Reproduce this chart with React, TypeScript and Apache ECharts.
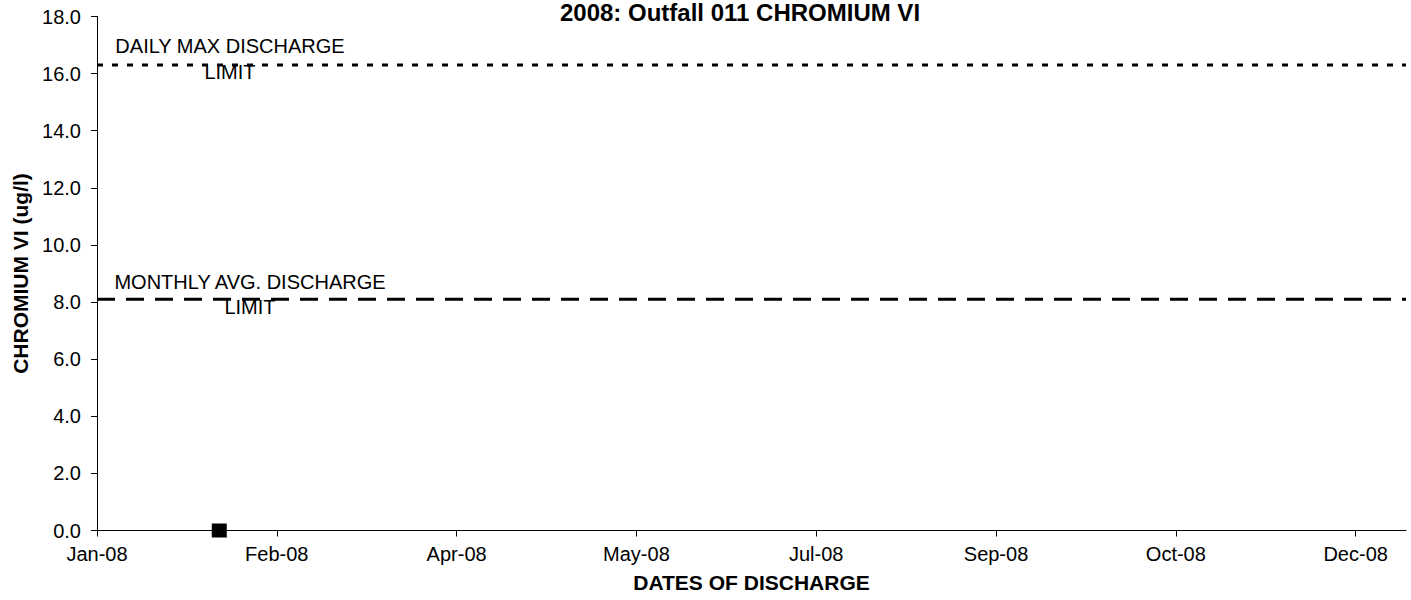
import React, { useEffect, useRef } from "react";
import * as echarts from "echarts";

// ---- data ----
const chartTitle = "2008: Outfall 011 CHROMIUM VI";
const xAxisName = "DATES OF DISCHARGE";
const yAxisName = "CHROMIUM VI (ug/l)";
const xStartDate = "2008-01-01";
const xEndDate = "2008-12-30";
const xTickDates = [
  "2008-01-01",
  "2008-02-20",
  "2008-04-10",
  "2008-05-30",
  "2008-07-19",
  "2008-09-07",
  "2008-10-27",
  "2008-12-16",
];
const xTickLabels = ["Jan-08", "Feb-08", "Apr-08", "May-08", "Jul-08", "Sep-08", "Oct-08", "Dec-08"];
const sampleDates = ["2008-02-04"];
const sampleValues = [0];
const dailyMaxLimit = 16.3;
const monthlyAvgLimit = 8.1;
const dailyMaxLabel = "DAILY MAX DISCHARGE\nLIMIT";
const monthlyAvgLabel = "MONTHLY AVG. DISCHARGE\nLIMIT";
const yMin = 0;
const yMax = 18;
const yStep = 2;

const FONT = "'Liberation Sans', Arial, sans-serif";

function dayOf(s: string): number {
  const [y, m, d] = s.split("-").map(Number);
  const t0 = Date.UTC(2008, 0, 1);
  return Math.round((Date.UTC(y, m - 1, d) - t0) / 86400000);
}

export default function App() {
  const ref = useRef<HTMLDivElement>(null);
  useEffect(() => {
    if (!ref.current) return;
    const chart = echarts.init(ref.current, undefined, { renderer: "svg" });
    const xMin = dayOf(xStartDate);
    const xMax = dayOf(xEndDate);
    const tickDays = xTickDates.map(dayOf);
    const labelFor = (v: number) => {
      const i = tickDays.indexOf(Math.round(v));
      return i >= 0 ? xTickLabels[i] : "";
    };
    const option: any = {
      animation: false,
      backgroundColor: "#ffffff",
      textStyle: { fontFamily: FONT, color: "#000" },
      grid: { left: 97, right: 5, top: 16.5, bottom: 69.5, containLabel: false },
      xAxis: {
        type: "value",
        min: xMin,
        max: xMax,
        interval: 50,
        name: xAxisName,
        nameLocation: "middle",
        nameGap: 41,
        nameTextStyle: { fontFamily: FONT, fontSize: 21, fontWeight: "bold", color: "#000" },
        axisLine: { show: true, onZero: false, lineStyle: { color: "#000", width: 1 } },
        axisTick: { show: true, inside: false, length: 6, customValues: tickDays, lineStyle: { color: "#000" } },
        axisLabel: {
          fontFamily: FONT,
          fontSize: 20,
          color: "#000",
          margin: 13,
          customValues: tickDays,
          formatter: (v: number) => labelFor(v),
        },
        splitLine: { show: false },
      },
      yAxis: {
        type: "value",
        min: yMin,
        max: yMax,
        interval: yStep,
        name: yAxisName,
        nameLocation: "middle",
        nameGap: 66,
        nameTextStyle: { fontFamily: FONT, fontSize: 21, fontWeight: "bold", color: "#000" },
        axisLine: { show: true, lineStyle: { color: "#000", width: 1 } },
        axisTick: { show: true, inside: false, length: 6, lineStyle: { color: "#000" } },
        axisLabel: {
          fontFamily: FONT,
          fontSize: 20,
          color: "#000",
          margin: 16,
          formatter: (v: number) => v.toFixed(1),
        },
        splitLine: { show: false },
      },
      series: [
        {
          name: "Daily max limit",
          type: "line",
          data: [
            [xMin, dailyMaxLimit],
            [xMax, dailyMaxLimit],
          ],
          symbol: "none",
          lineStyle: { color: "#000", width: 3, type: [6, 9] },
          silent: true,
        },
        {
          name: "Monthly avg limit",
          type: "line",
          data: [
            [xMin, monthlyAvgLimit],
            [xMax, monthlyAvgLimit],
          ],
          symbol: "none",
          lineStyle: { color: "#000", width: 3, type: [18, 11] },
          silent: true,
        },
        {
          name: "Chromium VI",
          type: "scatter",
          data: sampleDates.map((d, i) => [dayOf(d), sampleValues[i]]),
          symbol: "rect",
          symbolSize: [15, 14],
          itemStyle: { color: "#000", opacity: 1 },
          clip: false,
          z: 5,
        },
      ],
    };
    chart.setOption(option);
    // annotations anchored to the limit lines
    const p1 = chart.convertToPixel({ gridIndex: 0 }, [xMin, dailyMaxLimit]) as number[];
    const p2 = chart.convertToPixel({ gridIndex: 0 }, [xMin, monthlyAvgLimit]) as number[];
    chart.setOption({
      graphic: [
        {
          type: "text",
          x: 740,
          y: 0,
          style: {
            text: chartTitle,
            font: `bold 24px ${FONT}`,
            fill: "#000",
            align: "center",
            verticalAlign: "top",
          },
        },
        {
          type: "text",
          x: p1[0] + 133,
          y: p1[1] - 32,
          style: {
            text: dailyMaxLabel,
            font: `20px ${FONT}`,
            fill: "#000",
            align: "center",
            verticalAlign: "top",
            lineHeight: 26,
          },
        },
        {
          type: "text",
          x: p2[0] + 153,
          y: p2[1] - 30,
          style: {
            text: monthlyAvgLabel,
            font: `20px ${FONT}`,
            fill: "#000",
            align: "center",
            verticalAlign: "top",
            lineHeight: 25,
          },
        },
      ],
    });
    return () => chart.dispose();
  }, []);
  return (
    <div
      ref={ref}
      style={{ position: "fixed", left: 0, top: 0, width: 1411, height: 600, background: "#fff" }}
    />
  );
}
